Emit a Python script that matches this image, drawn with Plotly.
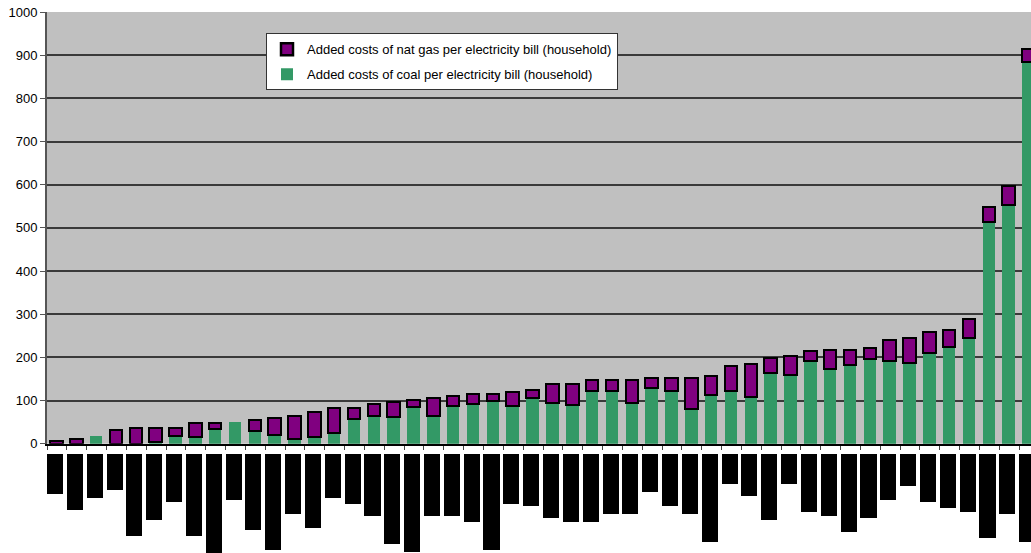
import plotly.graph_objects as go

# Added cost per household electricity bill, one bar per region, sorted by total
positions = list(range(50))

coal_cost = [0, 0, 19, 0, 0, 3, 17, 15, 34, 51, 29, 20, 12, 15, 25, 57, 65, 61, 84, 65,
             88, 93, 98, 88, 107, 94, 89, 121, 121, 94, 130, 121, 81, 113, 122, 108, 163, 160, 191, 173,
             182, 196, 191, 187, 210, 223, 246, 513, 553, 885]

natgas_cost = [6, 10, None, 32, 37, 34, 20, 32, 13, None, 26, 40, 53, 59, 58, 26, 27, 36, 18, 40,
               22, 22, 17, 31, 17, 44, 49, 27, 27, 53, 22, 31, 72, 43, 58, 77, 35, 44, 23, 45,
               36, 26, 49, 58, 49, 41, 42, 35, 44, 30]

# Length (px) of each category label block under the axis
label_block = [40, 56, 44, 36, 82, 66, 48, 82, 99, 46, 76, 96, 60, 74, 44, 50, 62, 90, 98, 62,
               62, 68, 96, 50, 52, 64, 68, 68, 60, 60, 38, 52, 60, 88, 30, 42, 66, 30, 58, 62,
               78, 64, 46, 32, 48, 54, 58, 84, 60, 88]

y_ticks = list(range(0, 1001, 100))

GREEN = "#339966"
PURPLE = "#800080"
PLOT_BG = "#C0C0C0"

W, H = 1031, 553
TOP, LEFT = 12, 47
plot_h = H - TOP
main_bottom = (H - 443.7) / plot_h
block_top = (H - 453.5) / plot_h

fig = go.Figure()

fig.add_trace(go.Bar(
    x=positions, y=coal_cost,
    name="Added costs of coal per electricity bill (household)",
    marker=dict(color=GREEN, line=dict(width=0)),
    width=0.63, offset=-0.34,
    legendgroup="coal", legendrank=2,
))
fig.add_trace(go.Bar(
    x=positions, y=natgas_cost,
    name="Added costs of nat gas per electricity bill (household)",
    marker=dict(color=PURPLE, line=dict(color="#000000", width=2.5)),
    width=0.63, offset=-0.34,
    legendgroup="gas", legendrank=1,
))
fig.add_trace(go.Bar(
    x=positions, y=[-v for v in label_block],
    yaxis="y2",
    marker=dict(color="#000000", line=dict(width=0)),
    width=0.81, offset=-0.5,
    showlegend=False, hoverinfo="skip",
))

# grey panel behind the main bars only
fig.add_shape(
    type="rect", xref="x domain", yref="y domain",
    x0=0, x1=1, y0=0, y1=1,
    fillcolor=PLOT_BG, line=dict(width=0), layer="below",
)

fig.update_layout(
    template=None,
    width=W, height=H,
    margin=dict(l=LEFT, r=0, t=TOP, b=0, autoexpand=False),
    paper_bgcolor="#FFFFFF",
    plot_bgcolor="#FFFFFF",
    barmode="stack",
    bargap=0,
    font=dict(family="Liberation Sans, Arial, sans-serif", size=13, color="#000000"),
    xaxis=dict(
        range=[-0.5, -0.5 + (W - LEFT) / 19.84],
        tickvals=[k - 0.5 for k in range(51)],
        showticklabels=False,
        ticks="outside", ticklen=4, tickwidth=1, tickcolor="#444444",
        showline=True, linecolor="#000000", linewidth=2,
        showgrid=False, zeroline=False,
        anchor="y", automargin=False,
    ),
    yaxis=dict(
        domain=[main_bottom, 1],
        range=[0, 1000],
        tickvals=y_ticks,
        ticks="outside", ticklen=5, tickcolor="#555555",
        showline=True, linecolor="#555555", linewidth=2,
        showgrid=True, gridcolor="#3a3a3a", gridwidth=1.5,
        zeroline=False, automargin=False,
        tickfont=dict(size=13),
    ),
    yaxis2=dict(
        domain=[0, block_top],
        range=[-(H - 453.5), 0],
        visible=False,
        showgrid=False, zeroline=False, automargin=False,
    ),
    legend=dict(
        x=(266 - LEFT) / (W - LEFT), y=1 - (33.3 - TOP) / plot_h,
        xanchor="left", yanchor="top",
        bgcolor="#FFFFFF", bordercolor="#333333", borderwidth=1,
        font=dict(size=13, color="#000000"),
        traceorder="grouped",
        tracegroupgap=5,
        itemwidth=30,
    ),
    showlegend=True,
)

fig.write_html("out.html")
